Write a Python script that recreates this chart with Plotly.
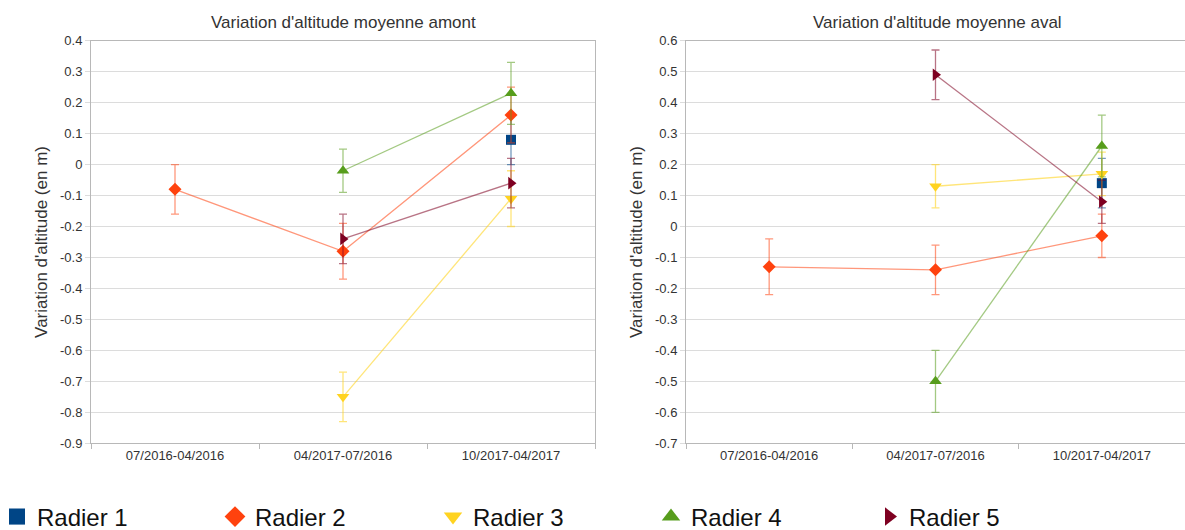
import plotly.graph_objects as go

# Periods on the x axis
periods = ["07/2016-04/2016", "04/2017-07/2016", "10/2017-04/2017"]

# Series names, colours and marker symbols
series_names = ["Radier 1", "Radier 2", "Radier 3", "Radier 4", "Radier 5"]
series_colors = ["#004586", "#ff420e", "#ffd320", "#579d1c", "#7e0021"]
series_line_colors = ["rgba(0,69,134,0.55)", "rgba(255,66,14,0.55)", "rgba(255,211,32,0.6)",
                      "rgba(87,157,28,0.55)", "rgba(126,0,33,0.55)"]
series_symbols = ["square", "diamond", "triangle-down", "triangle-up", "triangle-right"]
series_sizes = [10, 10, 11, 11, 11]

# Mean altitude change upstream (amont), metres
amont_r1 = [None, None, 0.08]
amont_r2 = [-0.08, -0.28, 0.16]
amont_r3 = [None, -0.75, -0.11]
amont_r4 = [None, -0.02, 0.23]
amont_r5 = [None, -0.24, -0.06]
amont_err_r1 = [None, None, 0.08]
amont_err_r2 = [0.08, 0.09, 0.09]
amont_err_r3 = [None, 0.08, 0.09]
amont_err_r4 = [None, 0.07, 0.10]
amont_err_r5 = [None, 0.08, 0.08]

# Mean altitude change downstream (aval), metres
aval_r1 = [None, None, 0.14]
aval_r2 = [-0.13, -0.14, -0.03]
aval_r3 = [None, 0.13, 0.17]
aval_r4 = [None, -0.50, 0.26]
aval_r5 = [None, 0.49, 0.08]
aval_err_r1 = [None, None, 0.08]
aval_err_r2 = [0.09, 0.08, 0.07]
aval_err_r3 = [None, 0.07, 0.07]
aval_err_r4 = [None, 0.10, 0.10]
aval_err_r5 = [None, 0.08, 0.07]

# Y tick values and labels for each panel
amont_ticks = [0.4, 0.3, 0.2, 0.1, 0, -0.1, -0.2, -0.3, -0.4, -0.5, -0.6, -0.7, -0.8, -0.9]
amont_ticktext = ["0.4", "0.3", "0.2", "0.1", "0", "-0.1", "-0.2", "-0.3", "-0.4", "-0.5",
                  "-0.6", "-0.7", "-0.8", "-0.9"]
aval_ticks = [0.6, 0.5, 0.4, 0.3, 0.2, 0.1, 0, -0.1, -0.2, -0.3, -0.4, -0.5, -0.6, -0.7]
aval_ticktext = ["0.6", "0.5", "0.4", "0.3", "0.2", "0.1", "0", "-0.1", "-0.2", "-0.3",
                 "-0.4", "-0.5", "-0.6", "-0.7"]

titles = ["Variation d'altitude moyenne amont", "Variation d'altitude moyenne aval"]
y_title = "Variation d'altitude (en m)"

amont_vals = [amont_r1, amont_r2, amont_r3, amont_r4, amont_r5]
amont_errs = [amont_err_r1, amont_err_r2, amont_err_r3, amont_err_r4, amont_err_r5]
aval_vals = [aval_r1, aval_r2, aval_r3, aval_r4, aval_r5]
aval_errs = [aval_err_r1, aval_err_r2, aval_err_r3, aval_err_r4, aval_err_r5]

FONT = "Liberation Sans"
TEXT = "#333333"
GRID = "#dcdcdc"
AXIS = "#b8b8b8"

W, H = 1185, 530
BOTTOM = 40           # strip below the plotting area that holds the legend
AREA_H = H - BOTTOM


def py(pixel_y):
    """Paper y coordinate for a pixel row measured from the top of the page."""
    return (AREA_H - pixel_y) / AREA_H


fig = go.Figure()

for xa, ya, vals, errs in [("x", "y", amont_vals, amont_errs), ("x2", "y2", aval_vals, aval_errs)]:
    for i in range(5):
        fig.add_trace(go.Scatter(
            x=periods, y=vals[i], xaxis=xa, yaxis=ya,
            mode="lines+markers", showlegend=False, connectgaps=True,
            line=dict(color=series_line_colors[i], width=1.3),
            marker=dict(symbol=series_symbols[i], size=series_sizes[i], color=series_colors[i],
                        line=dict(width=0)),
            error_y=dict(type="data", array=errs[i], visible=True,
                         color=series_line_colors[i], thickness=1.3, width=4),
            cliponaxis=False,
        ))

# Legend entries (marker only)
for i in range(5):
    fig.add_trace(go.Scatter(
        x=[None], y=[None], mode="markers", name=series_names[i],
        marker=dict(symbol=series_symbols[i], size=16, color=series_colors[i], line=dict(width=0)),
    ))

common_x = dict(type="category", showgrid=False, showline=True, mirror=True, linecolor=AXIS,
                linewidth=1, ticks="outside", tickson="boundaries", ticklen=5, tickcolor=AXIS,
                tickfont=dict(family=FONT, size=13, color=TEXT), range=[-0.5, 2.5], zeroline=False)
common_y = dict(showgrid=True, gridcolor=GRID, gridwidth=1, showline=True, mirror=True,
                linecolor=AXIS, linewidth=1, ticks="outside", ticklen=5, tickcolor=GRID,
                zeroline=False, tickfont=dict(family=FONT, size=13, color=TEXT),
                title=dict(text=y_title, font=dict(family=FONT, size=17, color=TEXT), standoff=8))

fig.update_layout(
    width=W, height=H,
    margin=dict(l=0, r=0, t=0, b=BOTTOM, autoexpand=False),
    paper_bgcolor="white", plot_bgcolor="white",
    font=dict(family=FONT, color=TEXT),
    xaxis=dict(domain=[91 / W, 595 / W], anchor="y", **common_x),
    yaxis=dict(domain=[py(443.3), py(40.7)], anchor="x", range=[-0.9, 0.4],
               tickvals=amont_ticks, ticktext=amont_ticktext, **common_y),
    xaxis2=dict(domain=[686 / W, 1.0], anchor="y2", **common_x),
    yaxis2=dict(domain=[py(443.3), py(40.7)], anchor="x2", range=[-0.7, 0.6],
                tickvals=aval_ticks, ticktext=aval_ticktext, **common_y),
    legend=dict(orientation="h", x=-3 / W, xanchor="left", y=py(517), yanchor="middle",
                font=dict(family=FONT, size=24, color="#111111"),
                entrywidth=173, entrywidthmode="pixels", itemsizing="trace",
                bgcolor="rgba(0,0,0,0)", tracegroupgap=0),
    annotations=[
        dict(text=titles[0], x=343 / W, y=py(22.5), xref="paper", yref="paper",
             showarrow=False, font=dict(family=FONT, size=17, color=TEXT),
             xanchor="center", yanchor="middle"),
        dict(text=titles[1], x=937 / W, y=py(22.5), xref="paper", yref="paper",
             showarrow=False, font=dict(family=FONT, size=17, color=TEXT),
             xanchor="center", yanchor="middle"),
    ],
)

fig.write_html("out.html")
